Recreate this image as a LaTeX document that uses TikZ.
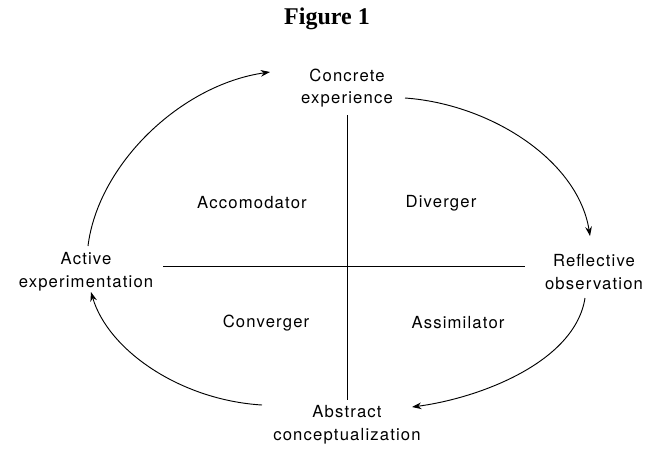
\documentclass[tikz,border=0pt]{standalone}
\usepackage{fontspec}
\setmainfont{TeX Gyre Heros}[LetterSpace=7]
\newfontfamily\titlefont{Liberation Serif}
\usetikzlibrary{arrows.meta}

\begin{document}
\begin{tikzpicture}[
    x=0.75pt, y=-0.75pt,
    font=\fontsize{12.5}{17}\selectfont,
    stage/.style={align=center, inner sep=2pt},
    quad/.style={inner sep=2pt},
    axis/.style={line width=0.5pt},
    cycle arrow/.style={line width=0.7pt, -{Stealth[length=7pt, width=5pt]}}
]
    \useasboundingbox (0,0) rectangle (655,454);

    % Title
    \node (title) at (327,19) {\titlefont\fontsize{18}{20}\selectfont\bfseries Figure 1};

    % Stages of the cycle
    \node[stage] (ce) at (347,88)  {Concrete\\experience};
    \node[stage] (ro) at (594,272) {Reflective\\observation};
    \node[stage] (ac) at (347,425) {Abstract\\conceptualization};
    \node[stage] (ae) at (86,272)  {Active\\experimentation};

    % Coordinates
    \coordinate (top) at (347,115);
    \coordinate (bot) at (347,400);
    \coordinate (lft) at (163,266);
    \coordinate (rgt) at (525,266);

    % Axes
    \draw[axis] (top) -- (bot);
    \draw[axis] (lft) -- (rgt);

    % Learning styles
    \node[quad] (acc) at (252,203) {Accomodator};
    \node[quad] (div) at (441,203) {Diverger};
    \node[quad] (con) at (266,323) {Converger};
    \node[quad] (ass) at (458,323) {Assimilator};

    % Cycle arrows
    \draw[cycle arrow] (88,246) .. controls (98,165) and (180,85) .. (270,72);
    \draw[cycle arrow] (405,98) .. controls (490,104) and (578,160) .. (590,236);
    \draw[cycle arrow] (585,298) .. controls (575,362) and (480,398) .. (412,407);
    \draw[cycle arrow] (262,405) .. controls (180,400) and (108,350) .. (91,292);

\end{tikzpicture}
\end{document}
